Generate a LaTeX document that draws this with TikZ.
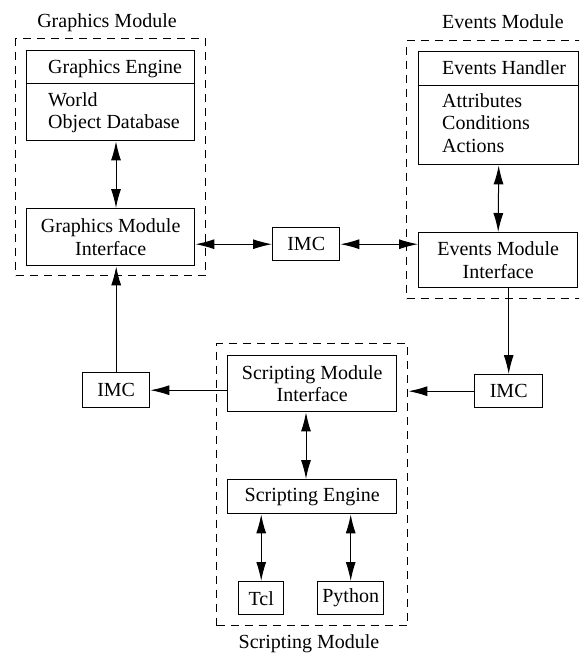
\documentclass[tikz,border=0pt]{standalone}
\usepackage{fontspec}
\setmainfont{Liberation Serif}
\usetikzlibrary{arrows.meta}

\tikzset{
  every node/.style={font=\fontsize{20}{22.5}\selectfont},
  box/.style={draw, line width=1.4pt, inner sep=0pt, anchor=north west, align=center},
  group/.style={draw, line width=1.4pt, dash pattern=on 8pt off 6pt, inner sep=0pt, anchor=north west},
  txt/.style={inner sep=0pt, align=left},
  head/.style={arrows={#1}},
  link/.style={line width=1pt, -{Latex[length=19pt, width=10pt]}},
  dlink/.style={line width=1pt, {Latex[length=19pt, width=10pt]}-{Latex[length=19pt, width=10pt]}},
}

\begin{document}
\begin{tikzpicture}[x=1pt, y=-1pt]
\useasboundingbox (0,0) rectangle (579,656);
\clip (0,0) rectangle (579,656);

% module frames and their titles
\node[group, minimum width=190, minimum height=237] (gm) at (15,38) {};
\node[txt, anchor=base] (gmt) at (107,27) {Graphics Module};
\node[group, minimum width=190, minimum height=258] (em) at (406,40) {};
\node[txt, anchor=base] (emt) at (503,28) {Events Module};
\node[group, minimum width=191, minimum height=282] (sm) at (216,343) {};
\node[txt, anchor=base] (smt) at (309,648) {Scripting Module};

% graphics module
\node[box, minimum width=168, minimum height=33] (gh) at (26,50) {};
\node[box, minimum width=168, minimum height=57] (gw) at (26,83) {};
\node[txt, anchor=base west] (ght) at (48,73) {Graphics Engine};
\node[txt, anchor=north west] (gwt) at (48,92) {World\\Object Database};
\node[box, minimum width=168, minimum height=57] (gmi) at (26,208) {Graphics Module\\Interface};

% events module
\node[box, minimum width=160, minimum height=34] (eh) at (418,51) {};
\node[box, minimum width=160, minimum height=79] (eb) at (418,85) {};
\node[txt, anchor=base west] (eht) at (442,74) {Events Handler};
\node[txt, anchor=north west] (ebt) at (442,93) {Attributes\\Conditions\\Actions};
\node[box, minimum width=159, minimum height=55] (emi) at (418,232) {Events Module\\Interface};

% scripting module
\node[box, minimum width=169, minimum height=56] (smi) at (227,355) {Scripting Module\\Interface};
\node[box, minimum width=169, minimum height=34] (se) at (227,479) {Scripting Engine};
\node[box, minimum width=45, minimum height=33] (tcl) at (238,581) {Tcl};
\node[box, minimum width=66, minimum height=33] (py) at (317,581) {Python};

% inter-module communication
\node[box, minimum width=67, minimum height=33] (imcm) at (272,227) {IMC};
\node[box, minimum width=67, minimum height=35] (imcl) at (82,372) {IMC};
\node[box, minimum width=68, minimum height=33] (imcr) at (474,374) {IMC};

\coordinate (gx) at (116,0);
\coordinate (sx) at (306,0);

% connectors inside the modules
\draw[dlink] (gw.south -| gx) -- (gmi.north -| gx);
\draw[dlink] (eb.south) -- (emi.north);
\draw[dlink] (smi.south -| sx) -- (se.north -| sx);
\draw[dlink] (se.south -| tcl.north) -- (tcl.north);
\draw[dlink] (se.south -| py.north) -- (py.north);

% connectors between the modules
\draw[dlink] (imcm.west) -- (imcm.west -| gmi.east);
\draw[dlink] (imcm.east) -- (imcm.east -| emi.west);
\draw[link] (emi.south -| imcr.north) -- (imcr.north);
\draw[link] (imcr.west) -- (imcr.west -| sm.east);
\draw[link] (imcl.east -| smi.west) -- (imcl.east);
\draw[link] (imcl.north) -- (imcl.north |- gmi.south);
\end{tikzpicture}
\end{document}
